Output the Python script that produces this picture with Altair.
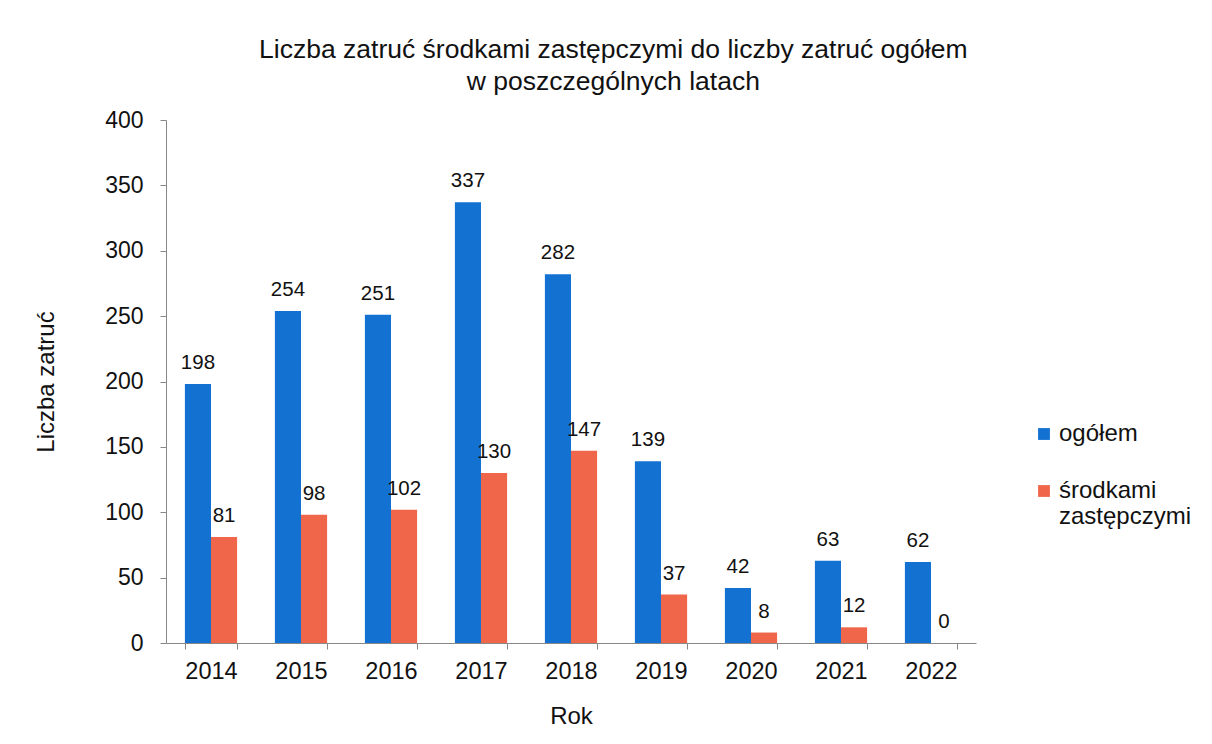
import altair as alt
import pandas as pd

years = ["2014", "2015", "2016", "2017", "2018", "2019", "2020", "2021", "2022"]
ogolem = [198, 254, 251, 337, 282, 139, 42, 63, 62]
srodki = [81, 98, 102, 130, 147, 37, 8, 12, 0]
series = ["ogółem", "środkami zastępczymi"]
colors = ["#1271d1", "#f0664a"]

rows = []
for i, y in enumerate(years):
    rows.append({"Rok": y, "Seria": series[0], "Wartosc": ogolem[i]})
    rows.append({"Rok": y, "Seria": series[1], "Wartosc": srodki[i]})
df = pd.DataFrame(rows)

FONT = "Liberation Sans"

base = alt.Chart(df).encode(
    x=alt.X(
        "Rok:N",
        sort=years,
        title="Rok",
        scale=alt.Scale(paddingInner=0.42, paddingOuter=0.21),
        axis=alt.Axis(
            labelAngle=0, tickBand="extent", tickSize=6, labelPadding=10,
            titlePadding=22, domainColor="#888888", tickColor="#888888",
            labelFontSize=23.5, titleFontSize=24, labelFont=FONT, titleFont=FONT,
            labelColor="#111111", titleColor="#111111", titleFontWeight="normal",
        ),
    ),
    xOffset=alt.XOffset("Seria:N", sort=series),
    y=alt.Y(
        "Wartosc:Q",
        title="Liczba zatruć",
        scale=alt.Scale(domain=[0, 400], nice=False),
        axis=alt.Axis(
            values=[0, 50, 100, 150, 200, 250, 300, 350, 400], grid=False,
            tickSize=6, labelPadding=17, titlePadding=46,
            domainColor="#888888", tickColor="#888888",
            labelFontSize=23, titleFontSize=24, labelFont=FONT, titleFont=FONT,
            labelColor="#111111", titleColor="#111111", titleFontWeight="normal",
        ),
    ),
)

bars = base.mark_bar().encode(
    color=alt.Color(
        "Seria:N",
        sort=series,
        scale=alt.Scale(domain=series, range=colors),
        legend=alt.Legend(
            title=None, orient="none", legendX=866, legendY=302,
            symbolType="square", symbolSize=140, symbolStrokeWidth=0,
            labelFontSize=24, labelFont=FONT, labelColor="#111111",
            rowPadding=33, labelLimit=300, labelOffset=3,
            labelExpr="split(datum.label, ' ')",
        ),
    )
)

labels = base.mark_text(
    baseline="alphabetic", dy=-15, fontSize=20.5, font=FONT, color="#111111"
).encode(text=alt.Text("Wartosc:Q"))

chart = (
    alt.layer(bars, labels)
    .properties(
        width=810,
        height=523,
        padding={"left": 26, "top": 28, "right": 5, "bottom": 5},
        title=alt.Title(
            ["Liczba zatruć środkami zastępczymi do liczby zatruć ogółem",
             "w poszczególnych latach"],
            fontSize=26.5, font=FONT, fontWeight="normal", color="#111111",
            lineHeight=32, anchor="middle", frame="bounds", offset=14,
        ),
    )
    .configure_view(stroke=None)
)

chart.save("out.html", embed_options={"renderer": "svg", "actions": False})
